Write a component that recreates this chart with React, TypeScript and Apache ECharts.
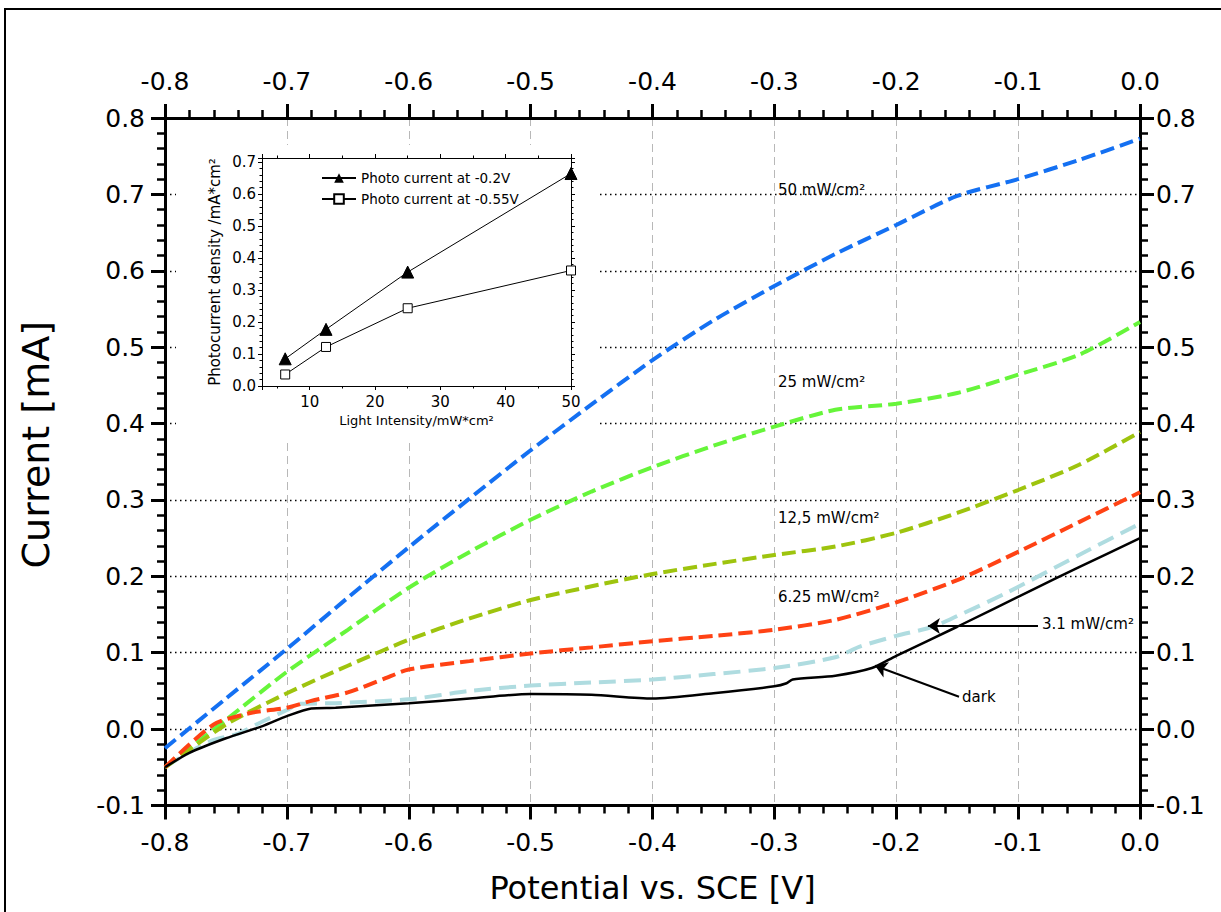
import React, { useEffect, useRef } from "react";
import * as echarts from "echarts";

// ---- main chart data (Potential vs. SCE [V] -> Current [mA]) ----
const potential = [-0.8, -0.75, -0.7, -0.65, -0.6, -0.55, -0.5, -0.45, -0.4, -0.35, -0.3, -0.25, -0.2, -0.15, -0.1, -0.05, 0.0];
const current50 = [-0.025, 0.04, 0.105, 0.172, 0.238, 0.302, 0.365, 0.425, 0.483, 0.535, 0.58, 0.622, 0.66, 0.698, 0.72, 0.745, 0.773];
const current25 = [-0.05, 0.012, 0.075, 0.13, 0.185, 0.232, 0.274, 0.311, 0.343, 0.371, 0.396, 0.418, 0.426, 0.44, 0.464, 0.49, 0.533];
const current125 = [-0.05, 0.006, 0.047, 0.083, 0.117, 0.145, 0.169, 0.187, 0.203, 0.216, 0.228, 0.239, 0.257, 0.283, 0.313, 0.346, 0.389];
const potential625 = [-0.8, -0.76, -0.73, -0.7, -0.68, -0.65, -0.62, -0.6, -0.55, -0.5, -0.45, -0.4, -0.35, -0.3, -0.25, -0.2, -0.15, -0.1, -0.05, 0.0];
const current625 = [-0.05, 0.006, 0.021, 0.028, 0.037, 0.048, 0.066, 0.078, 0.089, 0.099, 0.107, 0.115, 0.122, 0.13, 0.143, 0.166, 0.195, 0.232, 0.271, 0.31];
const potential31 = [-0.8, -0.78, -0.76, -0.74, -0.72, -0.7, -0.69, -0.66, -0.6, -0.55, -0.5, -0.45, -0.4, -0.35, -0.3, -0.25, -0.23, -0.2, -0.17, -0.15, -0.11, -0.05, 0.0];
const current31 = [-0.05, -0.03, -0.014, -0.006, 0.01, 0.025, 0.033, 0.034, 0.039, 0.05, 0.057, 0.061, 0.065, 0.072, 0.08, 0.094, 0.108, 0.122, 0.134, 0.148, 0.178, 0.228, 0.269];
const potentialDark = [-0.8, -0.78, -0.75, -0.72, -0.7, -0.68, -0.66, -0.6, -0.55, -0.5, -0.45, -0.4, -0.35, -0.3, -0.29, -0.285, -0.25, -0.22, -0.2, -0.15, -0.09, -0.05, 0.0];
const currentDark = [-0.05, -0.031, -0.012, 0.004, 0.017, 0.027, 0.028, 0.034, 0.04, 0.046, 0.045, 0.04, 0.047, 0.056, 0.06, 0.065, 0.07, 0.08, 0.096, 0.134, 0.181, 0.212, 0.25];

// ---- inset data (Light Intensity -> Photocurrent density) ----
const intensity = [6.25, 12.5, 25, 50];
const photoAt02 = [0.085, 0.177, 0.356, 0.664];
const photoAt055 = [0.036, 0.122, 0.243, 0.361];
const insetNames = ["Photo current at -0.2V", "Photo current at -0.55V"];

const curveLabels = ["50 mW/cm²", "25 mW/cm²", "12,5 mW/cm²", "6.25 mW/cm²", "3.1 mW/cm²", "dark"];

const FONT = '"DejaVu Sans", "Liberation Sans", Arial, sans-serif';

const pairs = (xs: number[], ys: number[]) => xs.map((x, i) => [x, ys[i]]);

const fmt1 = (v: number) => (Math.abs(v) < 1e-9 ? 0 : v).toFixed(1);

function mainXAxis(position: "bottom" | "top", withName: boolean) {
  return {
    type: "value",
    gridIndex: 0,
    position,
    min: -0.8,
    max: 0,
    interval: 0.1,
    name: withName ? "Potential vs. SCE [V]" : "",
    nameLocation: "middle",
    nameGap: 66,
    nameTextStyle: { fontSize: 32, color: "#000", fontFamily: FONT },
    axisLine: { show: true, onZero: false, lineStyle: { color: "#000", width: 3 } },
    axisTick: { show: true, length: 14, lineStyle: { color: "#000", width: 3 } },
    minorTick: { show: true, splitNumber: 5, length: 8, lineStyle: { color: "#000", width: 2.5 } },
    axisLabel: { show: true, fontSize: 25, color: "#000", fontFamily: FONT, margin: 24, formatter: fmt1 },
    splitLine: {
      show: withName,
      showMinLine: false,
      showMaxLine: false,
      lineStyle: { color: "#b8b8b8", width: 1, type: [8, 5] },
    },
    minorSplitLine: { show: false },
  };
}

function mainYAxis(position: "left" | "right", withName: boolean) {
  return {
    type: "value",
    gridIndex: 0,
    position,
    min: -0.1,
    max: 0.8,
    interval: 0.1,
    name: withName ? "Current [mA]" : "",
    nameLocation: "middle",
    nameGap: 110,
    nameTextStyle: { fontSize: 38, color: "#000", fontFamily: FONT, padding: [0, 0, 0, 34] },
    axisLine: { show: true, onZero: false, lineStyle: { color: "#000", width: 3 } },
    axisTick: { show: true, length: 14, lineStyle: { color: "#000", width: 3 } },
    minorTick: { show: true, splitNumber: 5, length: 8, lineStyle: { color: "#000", width: 2.5 } },
    axisLabel: { show: true, fontSize: 25, color: "#000", fontFamily: FONT, margin: position === "left" ? 20 : 16, formatter: fmt1 },
    splitLine: {
      show: withName,
      showMinLine: false,
      showMaxLine: false,
      lineStyle: { color: "#000", width: 1.3, type: [1.5, 3.5] },
    },
  };
}

const insetAxisLine = { show: true, onZero: false, lineStyle: { color: "#000", width: 1 } };

function dashed(name: string, data: number[][], color: string, dash: number[], z: number) {
  return {
    name,
    type: "line",
    xAxisIndex: 0,
    yAxisIndex: 0,
    data,
    smooth: 0.25,
    showSymbol: false,
    symbol: "none",
    z,
    lineStyle: { color, width: 4, type: dash },
  };
}

export default function App() {
  const ref = useRef<HTMLDivElement>(null);

  useEffect(() => {
    if (!ref.current) return;
    const chart = echarts.init(ref.current, undefined, { renderer: "svg" });

    const option: any = {
      animation: false,
      backgroundColor: "#fff",
      textStyle: { fontFamily: FONT },
      grid: [
        { left: 165, top: 118, width: 975, height: 687.5, containLabel: false },
        { left: 262, top: 158, width: 309, height: 228, containLabel: false, z: 3 },
      ],
      xAxis: [
        mainXAxis("bottom", true),
        mainXAxis("top", false),
        {
          type: "value",
          gridIndex: 1,
          position: "bottom",
          min: 2.7,
          max: 50,
          z: 3,
          name: "Light Intensity/mW*cm²",
          nameLocation: "middle",
          nameGap: 28,
          nameTextStyle: { fontSize: 13, color: "#000", fontFamily: FONT },
          axisLine: insetAxisLine,
          axisTick: { show: true, length: 4, lineStyle: { color: "#000", width: 1 } },
          minorTick: { show: true, splitNumber: 2, length: 2.5, lineStyle: { color: "#000", width: 1 } },
          axisLabel: { fontSize: 15, color: "#000", fontFamily: FONT, margin: 8, showMinLabel: false },
          splitLine: { show: false },
        },
        {
          type: "value",
          gridIndex: 1,
          position: "top",
          min: 2.7,
          max: 50,
          z: 3,
          axisLine: insetAxisLine,
          axisTick: { show: true, length: 4, lineStyle: { color: "#000", width: 1 } },
          minorTick: { show: true, splitNumber: 2, length: 2.5, lineStyle: { color: "#000", width: 1 } },
          axisLabel: { show: false },
          splitLine: { show: false },
        },
      ],
      yAxis: [
        mainYAxis("left", true),
        mainYAxis("right", false),
        {
          type: "value",
          gridIndex: 1,
          position: "left",
          min: 0,
          max: 0.7125,
          interval: 0.1,
          z: 3,
          name: "Photocurrent density /mA*cm²",
          nameLocation: "middle",
          nameGap: 40,
          nameTextStyle: { fontSize: 15, color: "#000", fontFamily: FONT },
          axisLine: insetAxisLine,
          axisTick: { show: true, length: 4, lineStyle: { color: "#000", width: 1 } },
          minorTick: { show: true, splitNumber: 5, length: 2.5, lineStyle: { color: "#000", width: 1 } },
          axisLabel: { fontSize: 15, color: "#000", fontFamily: FONT, margin: 6, showMaxLabel: false, formatter: fmt1 },
          splitLine: { show: false },
        },
        {
          type: "value",
          gridIndex: 1,
          position: "right",
          min: 0,
          max: 0.7125,
          interval: 0.1,
          z: 3,
          axisLine: insetAxisLine,
          axisTick: { show: true, length: 4, lineStyle: { color: "#000", width: 1 } },
          minorTick: { show: true, splitNumber: 5, length: 2.5, lineStyle: { color: "#000", width: 1 } },
          axisLabel: { show: false },
          splitLine: { show: false },
        },
      ],
      legend: {
        data: insetNames,
        orient: "vertical",
        left: 316,
        top: 166,
        itemWidth: 34,
        itemHeight: 12,
        itemGap: 7,
        z: 6,
        textStyle: { fontSize: 13.5, color: "#000", fontFamily: FONT },
      },
      graphic: [
        {
          type: "rect",
          z: 1,
          silent: true,
          shape: { x: 176, y: 145, width: 424, height: 294 },
          style: { fill: "#fff", stroke: "none" },
        },
        {
          type: "rect",
          z: 10,
          silent: true,
          shape: { x: 5, y: 9, width: 1240, height: 940 },
          style: { fill: "none", stroke: "#000", lineWidth: 2 },
        },
        { type: "text", z: 10, style: { text: curveLabels[0], x: 778, y: 190, fontSize: 15, fontFamily: FONT, fill: "#000", verticalAlign: "middle" } },
        { type: "text", z: 10, style: { text: curveLabels[1], x: 778, y: 382, fontSize: 15, fontFamily: FONT, fill: "#000", verticalAlign: "middle" } },
        { type: "text", z: 10, style: { text: curveLabels[2], x: 778, y: 518, fontSize: 15, fontFamily: FONT, fill: "#000", verticalAlign: "middle" } },
        { type: "text", z: 10, style: { text: curveLabels[3], x: 778, y: 597, fontSize: 15, fontFamily: FONT, fill: "#000", verticalAlign: "middle" } },
        { type: "text", z: 10, style: { text: curveLabels[4], x: 1042, y: 624, fontSize: 15, fontFamily: FONT, fill: "#000", verticalAlign: "middle" } },
        { type: "text", z: 10, style: { text: curveLabels[5], x: 962, y: 697, fontSize: 15, fontFamily: FONT, fill: "#000", verticalAlign: "middle" } },
      ],
      series: [
        dashed("50 mW/cm²", pairs(potential, current50), "#1470f2", [14, 6], 3),
        dashed("25 mW/cm²", pairs(potential, current25), "#66f53a", [14, 6], 3),
        dashed("12,5 mW/cm²", pairs(potential, current125), "#9ec40e", [14, 6], 3),
        dashed("6.25 mW/cm²", pairs(potential625, current625), "#ff4214", [14, 6], 3),
        {
          ...dashed("3.1 mW/cm²", pairs(potential31, current31), "#afdce0", [17, 8], 2),
          markLine: {
            silent: true,
            symbol: ["none", "arrow"],
            symbolSize: 12,
            label: { show: false },
            lineStyle: { color: "#000", width: 2, type: "solid" },
            data: [[{ coord: [-0.0837, 0.135] }, { coord: [-0.174, 0.135] }]],
          },
        },
        {
          name: "dark",
          type: "line",
          xAxisIndex: 0,
          yAxisIndex: 0,
          data: pairs(potentialDark, currentDark),
          smooth: 0.25,
          showSymbol: false,
          symbol: "none",
          z: 4,
          lineStyle: { color: "#000", width: 2.5, type: "solid" },
          markLine: {
            silent: true,
            symbol: ["none", "arrow"],
            symbolSize: 12,
            label: { show: false },
            lineStyle: { color: "#000", width: 2, type: "solid" },
            data: [[{ coord: [-0.1485, 0.0423] }, { coord: [-0.2174, 0.083] }]],
          },
        },
        {
          name: insetNames[0],
          type: "line",
          xAxisIndex: 2,
          yAxisIndex: 2,
          data: pairs(intensity, photoAt02),
          z: 5,
          symbol: "triangle",
          symbolSize: 12,
          itemStyle: { color: "#000", borderColor: "#000" },
          lineStyle: { color: "#000", width: 1 },
        },
        {
          name: insetNames[1],
          type: "line",
          xAxisIndex: 2,
          yAxisIndex: 2,
          data: pairs(intensity, photoAt055),
          z: 5,
          symbol: "rect",
          symbolSize: 9,
          itemStyle: { color: "#fff", borderColor: "#000", borderWidth: 1 },
          lineStyle: { color: "#000", width: 1 },
        },
      ],
    };

    chart.setOption(option);
    return () => chart.dispose();
  }, []);

  return (
    <div
      ref={ref}
      style={{ position: "fixed", left: 0, top: 0, width: 1221, height: 912, background: "#fff" }}
    />
  );
}
